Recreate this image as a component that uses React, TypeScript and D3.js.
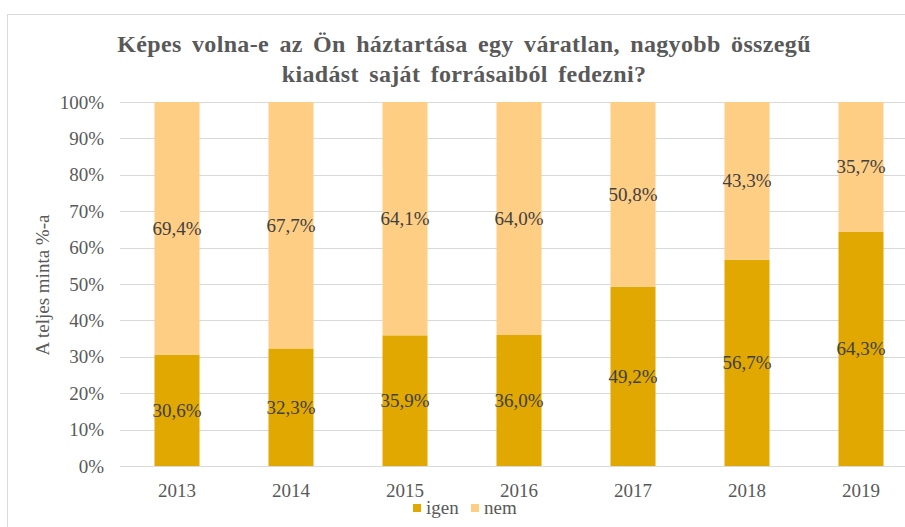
import React from "react";
import * as d3 from "d3";

const years = ["2013", "2014", "2015", "2016", "2017", "2018", "2019"];
const igen = [30.6, 32.3, 35.9, 36.0, 49.2, 56.7, 64.3];
const nem = [69.4, 67.7, 64.1, 64.0, 50.8, 43.3, 35.7];
const yTicks = [0, 10, 20, 30, 40, 50, 60, 70, 80, 90, 100];
const titleLines = [
  "Képes volna-e az Ön háztartása egy váratlan, nagyobb összegű",
  "kiadást saját forrásaiból fedezni?",
];
const yAxisTitle = "A teljes minta %-a";
const seriesNames = ["igen", "nem"];
const colors = ["#E0A800", "#FFCE85"];

const W = 905;
const H = 527;
const font = "Liberation Serif";

export default function App() {
  const x = d3.scaleBand<string>().domain(years).range([120, 918]).paddingInner(0.605).paddingOuter(0.3025);
  const y = d3.scaleLinear().domain([0, 100]).range([466, 102]);
  const fmt = (v: number) => v.toFixed(1).replace(".", ",") + "%";
  const ts = { fontFamily: font };

  return (
    <svg width={W} height={H} style={{ position: "absolute", left: 0, top: 0, fontFamily: font }}>
      <rect x={0} y={0} width={W} height={H} fill="#fff" />
      <rect x={7.5} y={14.5} width={W + 10} height={H + 10} fill="none" stroke="#d9d9d9" strokeWidth={1} />
      {titleLines.map((t, i) => (
        <text key={i} style={{ ...ts, wordSpacing: "4px", letterSpacing: "0.35px" }} x={464} y={52 + i * 30} textAnchor="middle" fontSize={24} fontWeight="bold" fill="#595959">
          {t}
        </text>
      ))}
      {yTicks.map((t) => (
        <g key={t}>
          <line x1={120} x2={918} y1={Math.round(y(t)) + 0.5} y2={Math.round(y(t)) + 0.5} stroke="#d9d9d9" strokeWidth={1} />
          <text style={ts} x={104} y={y(t) + 6.5} textAnchor="end" fontSize={19} fill="#595959">
            {t + "%"}
          </text>
        </g>
      ))}
      <text style={ts} transform={`translate(49,285) rotate(-90)`} textAnchor="middle" fontSize={19} fill="#595959">
        {yAxisTitle}
      </text>
      {years.map((yr, i) => {
        const bx = x(yr)!;
        const bw = x.bandwidth();
        return (
          <g key={yr}>
            <rect x={bx} y={y(igen[i])} width={bw} height={y(0) - y(igen[i])} fill={colors[0]} />
            <rect x={bx} y={y(igen[i] + nem[i])} width={bw} height={y(igen[i]) - y(igen[i] + nem[i])} fill={colors[1]} />
            <text style={ts} x={bx + bw / 2} y={y(igen[i] / 2) + 6.5} textAnchor="middle" fontSize={19} fill="#404040">
              {fmt(igen[i])}
            </text>
            <text style={ts} x={bx + bw / 2} y={y(igen[i] + nem[i] / 2) + 6.5} textAnchor="middle" fontSize={19} fill="#404040">
              {fmt(nem[i])}
            </text>
            <text style={ts} x={bx + bw / 2} y={497} textAnchor="middle" fontSize={19} fill="#595959">
              {yr}
            </text>
          </g>
        );
      })}
      {seriesNames.map((s, i) => {
        const lx = 413 + i * 58;
        return (
          <g key={s}>
            <rect x={lx} y={504} width={8} height={8} fill={colors[i]} />
            <text style={ts} x={lx + 13} y={514} fontSize={19} fill="#595959">
              {s}
            </text>
          </g>
        );
      })}
    </svg>
  );
}
